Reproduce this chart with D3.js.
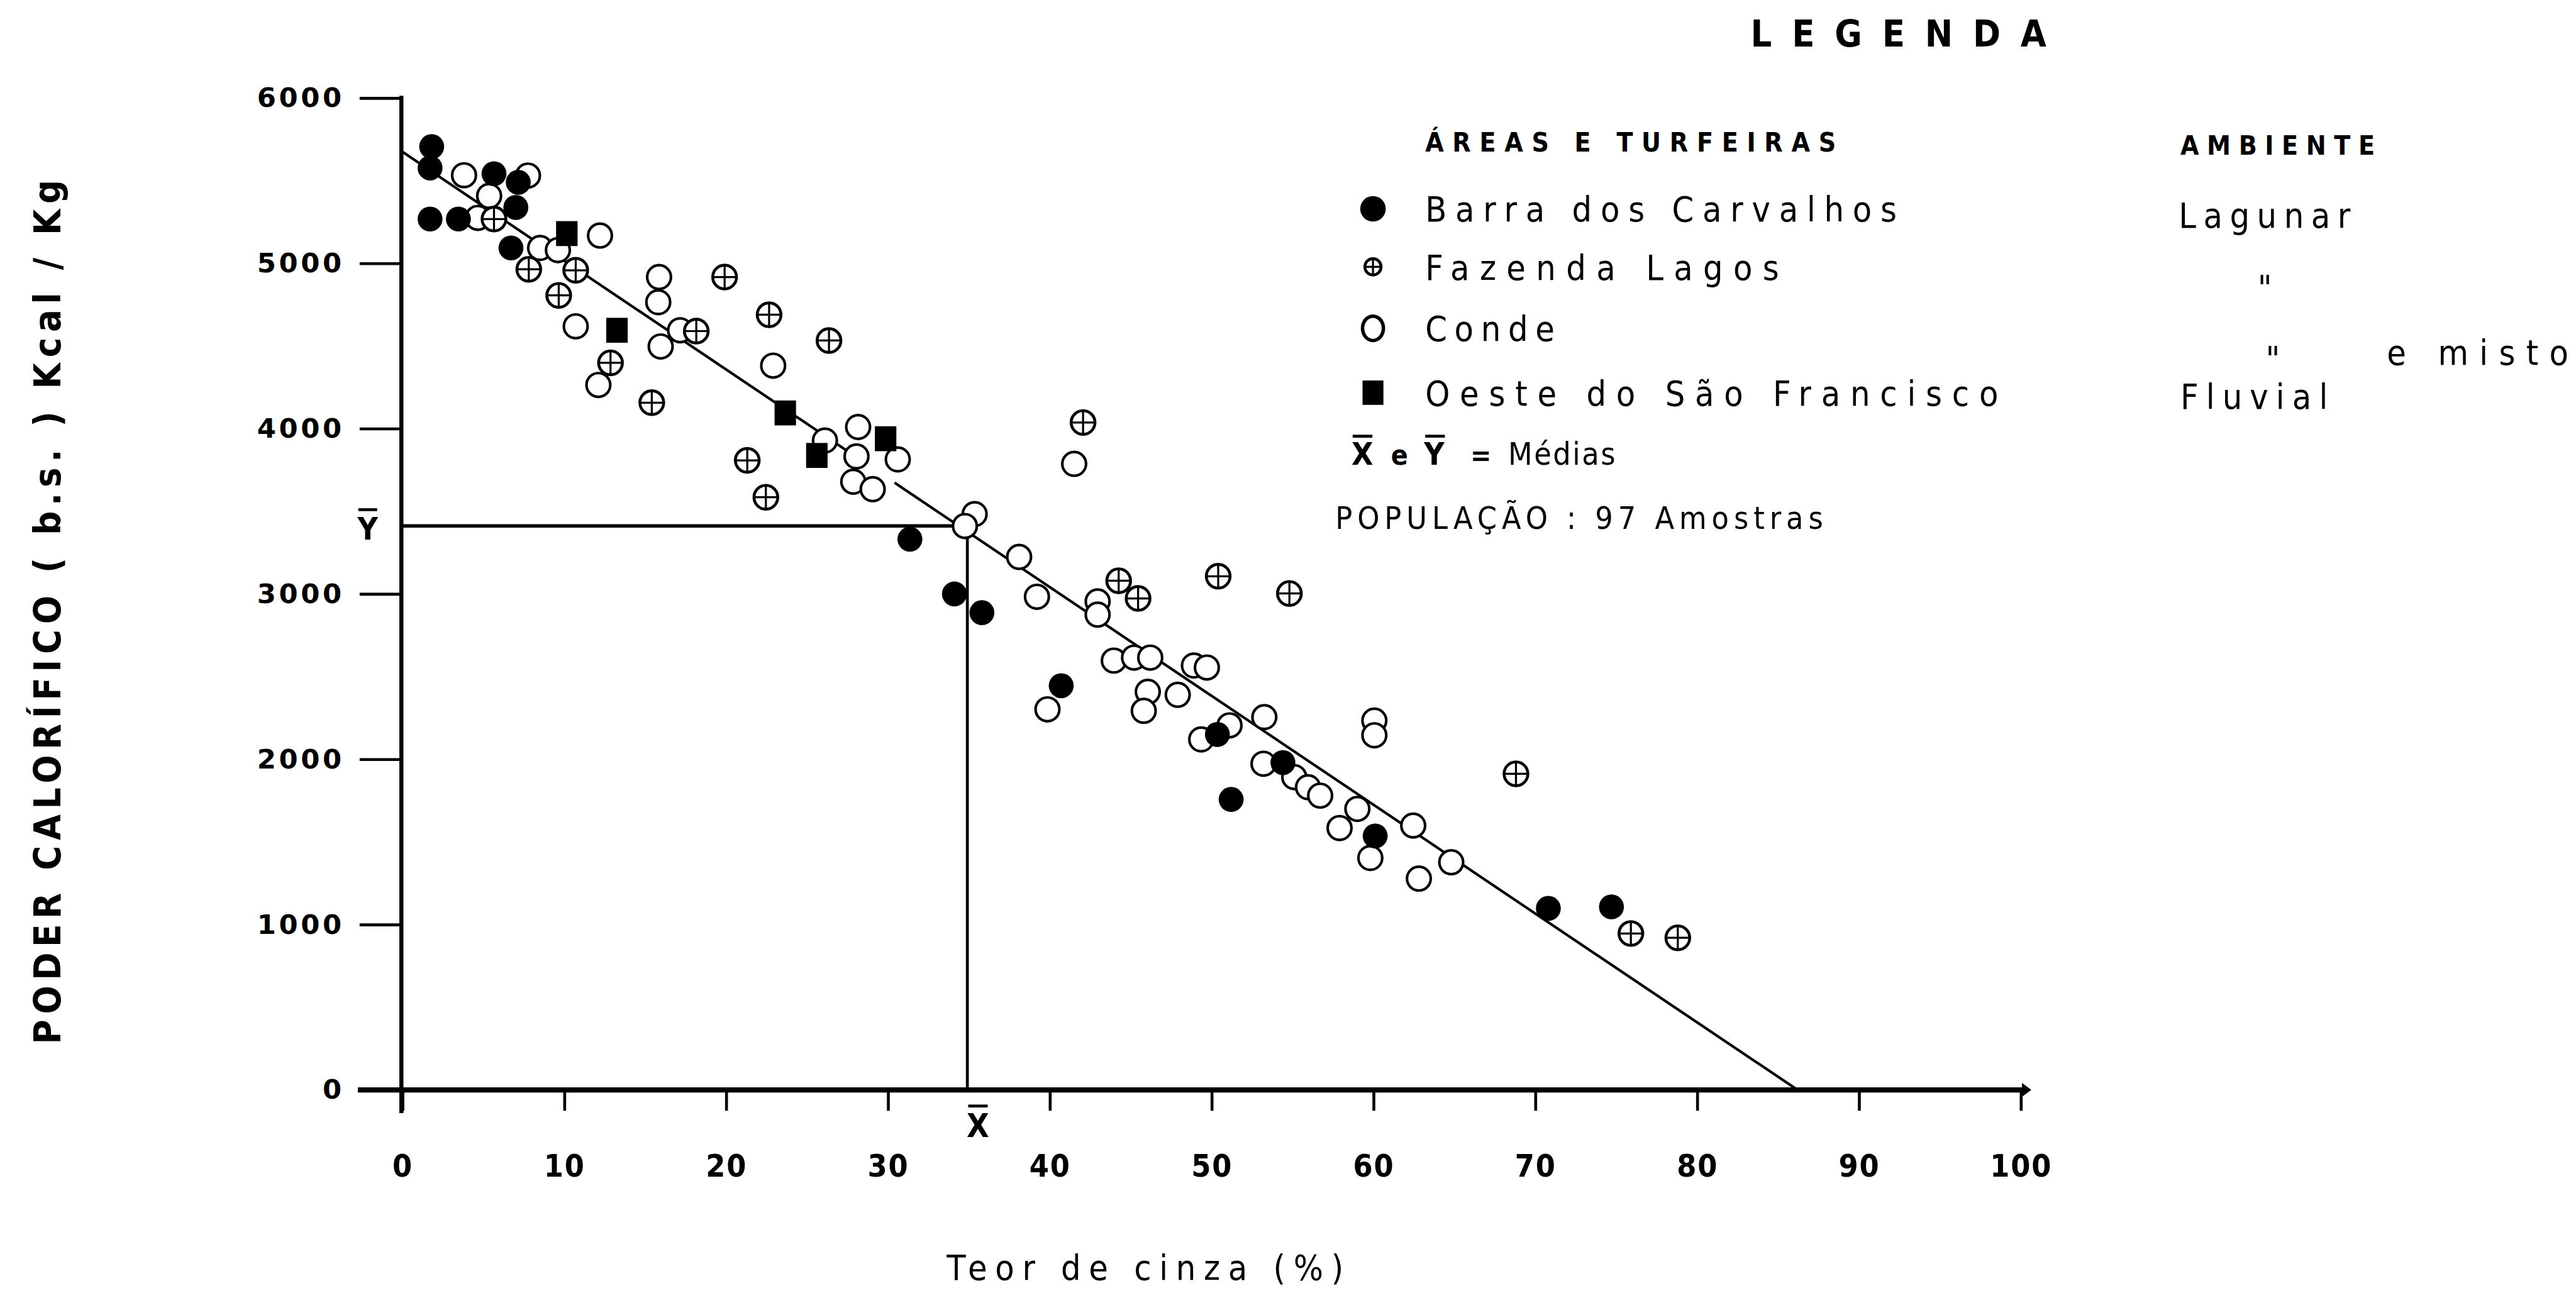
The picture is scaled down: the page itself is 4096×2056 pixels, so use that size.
<!DOCTYPE html>
<html>
<head>
<meta charset="utf-8">
<script src="https://cdn.jsdelivr.net/npm/d3@7"></script>
<style>
  body { margin: 0; background: #fff; }
  text { fill: #000; }
</style>
</head>
<body>
<svg id="chart"></svg>
<script>
// valores: [teor de cinza %, poder calorífico kcal/kg]
const barra = [
  [1.8, 5706], [1.7, 5577], [5.65, 5542], [7.15, 5490], [7.0, 5338], [1.7, 5268], [3.45, 5268], [6.7, 5093],
  [31.35, 3331], [34.1, 3000], [35.8, 2887], [40.7, 2445], [50.35, 2150], [51.2, 1757], [54.4, 1980],
  [60.1, 1536], [70.8, 1098], [74.7, 1107]
];
const fazenda = [
  [5.65, 5268], [7.8, 4964], [10.7, 4958], [9.65, 4806], [12.85, 4398], [15.4, 4157], [18.15, 4590],
  [19.9, 4917], [22.65, 4689], [26.35, 4533], [21.3, 3808], [22.45, 3585], [42.05, 4037], [44.25, 3080],
  [45.45, 2973], [50.4, 3107], [54.8, 3003], [68.8, 1912], [75.9, 946], [78.8, 920]
];
const conde = [
  [3.8, 5533], [5.35, 5408], [7.75, 5531], [4.65, 5275], [8.5, 5093], [9.6, 5080], [12.2, 5168], [10.7, 4619],
  [12.1, 4264], [15.85, 4917], [15.8, 4765], [15.95, 4497], [17.15, 4595], [22.9, 4381], [26.1, 3928],
  [28.15, 4010], [30.6, 3814], [28.05, 3832], [27.85, 3679], [29.05, 3634], [41.5, 3787], [35.35, 3483],
  [34.75, 3411], [38.1, 3224], [39.2, 2983], [42.95, 2955], [42.95, 2875], [43.95, 2597], [45.2, 2615],
  [46.2, 2615], [48.9, 2567], [49.7, 2555], [46.05, 2408], [45.8, 2293], [47.9, 2390], [39.85, 2302],
  [49.35, 2120], [51.1, 2205], [53.25, 2255], [53.2, 1973], [55.1, 1892], [55.95, 1831], [56.7, 1780],
  [59.0, 1700], [57.9, 1584], [60.05, 2234], [60.05, 2145], [59.8, 1403], [62.45, 1599], [64.8, 1377],
  [62.8, 1278]
];
const oeste = [[10.15, 5180], [13.25, 4595], [23.65, 4095], [25.6, 3838], [29.85, 3939]];

const xTicks = [0, 10, 20, 30, 40, 50, 60, 70, 80, 90, 100];
const yTicks = [0, 1000, 2000, 3000, 4000, 5000, 6000];

// médias e reta de regressão (com a falha do traço original perto de 28-30 %)
const mediaX = 34.9;
const mediaY = 3412;
const retaInicio = [0, 5674];
const retaFim = [86.2, 0];
const retaFalha = [28.6, 30.4];

const areas = ["Barra dos Carvalhos", "Fazenda Lagos", "Conde", "Oeste do São Francisco"];
const ambientes = ["Lagunar", "\"", "\"", "Fluvial"];

// ---------------------------------------------------------------
const K = 4096 / 4441; // tudo desenhado nas coordenadas da referência
const COND = "'DejaVu Sans Condensed', 'DejaVu Sans', sans-serif";
const WIDE = "'DejaVu Sans', sans-serif";

const svg = d3.select("#chart").attr("width", 4096).attr("height", 2056);
svg.append("rect").attr("width", 4096).attr("height", 2056).attr("fill", "#fff");
const g = svg.append("g").attr("transform", `scale(${K})`);

const x = d3.scaleLinear().domain([0, 100]).range([694, 3484]);
const y = d3.scaleLinear().domain([0, 6000]).range([1879, 169]);

// eixo Y
const yAxis = d3.axisLeft(y).tickValues(yTicks).tickSize(72).tickPadding(26).tickFormat(d => d);
const gy = g.append("g").attr("transform", `translate(${x(0) - 2},0)`).call(yAxis);
gy.select(".domain").remove();
gy.selectAll(".tick line").attr("stroke", "#000").attr("stroke-width", 5);
gy.selectAll(".tick text")
  .attr("font-family", WIDE).attr("font-weight", "bold").attr("font-size", 47)
  .style("letter-spacing", "5px");

// eixo X
const xAxis = d3.axisBottom(x).tickValues(xTicks).tickSize(36).tickPadding(75).tickFormat(d => d);
const gx = g.append("g").attr("transform", `translate(0,${y(0)})`).call(xAxis);
gx.select(".domain").remove();
gx.selectAll(".tick line").attr("stroke", "#000").attr("stroke-width", 5);
gx.selectAll(".tick text")
  .attr("font-family", COND).attr("font-weight", "bold").attr("font-size", 54)
  .style("letter-spacing", "2px");

// linhas dos eixos
g.append("line").attr("x1", x(0) - 2).attr("x2", x(0) - 2).attr("y1", y(6000) - 4).attr("y2", y(0) + 40)
  .attr("stroke", "#000").attr("stroke-width", 7);
g.append("line").attr("x1", x(0) - 77).attr("x2", x(100) + 8).attr("y1", y(0)).attr("y2", y(0))
  .attr("stroke", "#000").attr("stroke-width", 9);
g.append("path")
  .attr("d", `M${x(100) + 2},${y(0) - 12} L${x(100) + 18},${y(0)} L${x(100) + 2},${y(0) + 12} Z`)
  .attr("fill", "#000");

// médias
g.append("line").attr("x1", x(0)).attr("x2", x(mediaX)).attr("y1", y(mediaY)).attr("y2", y(mediaY))
  .attr("stroke", "#000").attr("stroke-width", 6);
g.append("line").attr("x1", x(mediaX)).attr("x2", x(mediaX)).attr("y1", y(mediaY)).attr("y2", y(0))
  .attr("stroke", "#000").attr("stroke-width", 5);

// reta de regressão, em dois trechos
const reta = d3.scaleLinear().domain([retaInicio[0], retaFim[0]]).range([retaInicio[1], retaFim[1]]);
[[retaInicio[0], retaFalha[0]], [retaFalha[1], retaFim[0]]].forEach(([a, b]) => {
  g.append("line")
    .attr("x1", x(a)).attr("y1", y(reta(a)))
    .attr("x2", x(b)).attr("y2", y(reta(b)))
    .attr("stroke", "#000").attr("stroke-width", 4.5);
});

// símbolos
function simbolo(sel, tipo, r) {
  if (tipo === "aberto") {
    sel.append("circle").attr("r", r).attr("fill", "#fff").attr("stroke", "#000").attr("stroke-width", 4.5);
  } else if (tipo === "cheio") {
    sel.append("circle").attr("r", r + 1).attr("fill", "#000");
  } else if (tipo === "cruz") {
    sel.append("circle").attr("r", r).attr("fill", "#fff").attr("stroke", "#000").attr("stroke-width", 5);
    sel.append("line").attr("x1", -r).attr("x2", r).attr("stroke", "#000").attr("stroke-width", 3.5);
    sel.append("line").attr("y1", -r).attr("y2", r).attr("stroke", "#000").attr("stroke-width", 3.5);
  } else if (tipo === "quadrado") {
    sel.append("rect").attr("x", -r + 2).attr("y", -r - 1).attr("width", 2 * r - 4).attr("height", 2 * r + 2)
      .attr("fill", "#000");
  }
}

const series = [
  { dados: conde, tipo: "aberto" },
  { dados: fazenda, tipo: "cruz" },
  { dados: oeste, tipo: "quadrado" },
  { dados: barra, tipo: "cheio" }
];
series.forEach(s => {
  g.append("g").selectAll("g")
    .data(s.dados)
    .enter()
    .append("g")
    .attr("transform", d => `translate(${x(d[0])},${y(d[1])})`)
    .each(function () { simbolo(d3.select(this), s.tipo, 20.5); });
});

// rótulos das médias
function barrado(letra, cx, base, tam) {
  g.append("text").attr("x", cx).attr("y", base).attr("text-anchor", "middle")
    .attr("font-family", COND).attr("font-weight", "bold").attr("font-size", tam).text(letra);
  g.append("line").attr("x1", cx - tam * 0.3).attr("x2", cx + tam * 0.3)
    .attr("y1", base - tam * 0.95).attr("y2", base - tam * 0.95)
    .attr("stroke", "#000").attr("stroke-width", 5);
}
barrado("Y", 634, 930, 54);
barrado("X", 1686, 1960, 56);

// títulos dos eixos
g.append("text")
  .attr("transform", "translate(104,1055) rotate(-90)")
  .attr("text-anchor", "middle")
  .attr("font-family", COND).attr("font-weight", "bold").attr("font-size", 64)
  .attr("textLength", 1490).attr("lengthAdjust", "spacing")
  .text("PODER CALORÍFICO ( b.s. ) Kcal / Kg");

g.append("text")
  .attr("x", 1632).attr("y", 2206)
  .attr("font-family", COND).attr("font-size", 60)
  .attr("textLength", 684).attr("lengthAdjust", "spacing")
  .text("Teor de cinza (%)");

// legenda
function texto(t, px, py, tam, larg, peso) {
  const el = g.append("text").attr("x", px).attr("y", py)
    .attr("font-family", COND).attr("font-size", tam).attr("font-weight", peso || "normal").text(t);
  if (larg) el.attr("textLength", larg).attr("lengthAdjust", "spacing");
  return el;
}
texto("LEGENDA", 3018, 80, 64, 510, "bold");
texto("ÁREAS E TURFEIRAS", 2457, 261, 46, 708, "bold");
texto("AMBIENTE", 3759, 267, 46, 335, "bold");

const linhas = [382, 482, 588, 699];
const largAreas = [813, 610, 223, 988];
const tipos = ["cheio", "cruz", "aberto", "quadrado"];
const raios = [21, 14, 20, 20];
areas.forEach((a, i) => {
  const s = g.append("g").attr("transform", `translate(2367,${linhas[i] - 22})`);
  if (tipos[i] === "aberto") {
    s.append("ellipse").attr("rx", 18).attr("ry", 21).attr("fill", "none").attr("stroke", "#000").attr("stroke-width", 6);
  } else {
    simbolo(s, tipos[i], raios[i]);
  }
  texto(a, 2457, linhas[i], 60, largAreas[i]);
});

const ambX = [3756, 3892, 3906, 3759];
const ambY = [393, 517, 640, 705];
const ambLarg = [296, null, null, 254];
ambientes.forEach((a, i) => texto(a, ambX[i], ambY[i], 60, ambLarg[i]));
texto("e misto", 4115, 629, 60, 313);

// X̄ e Ȳ = Médias
function barraLeg(letra, px) {
  texto(letra, px, 801, 54, null, "bold");
  g.append("line").attr("x1", px + 2).attr("x2", px + 36).attr("y1", 752).attr("y2", 752)
    .attr("stroke", "#000").attr("stroke-width", 5);
}
barraLeg("X", 2330);
texto("e", 2398, 801, 48, null, "bold");
barraLeg("Y", 2455);
texto("=", 2535, 801, 48, null, "bold");
texto("Médias", 2600, 801, 54, 185);
texto("POPULAÇÃO : 97 Amostras", 2302, 912, 54, 841);
</script>
</body>
</html>
